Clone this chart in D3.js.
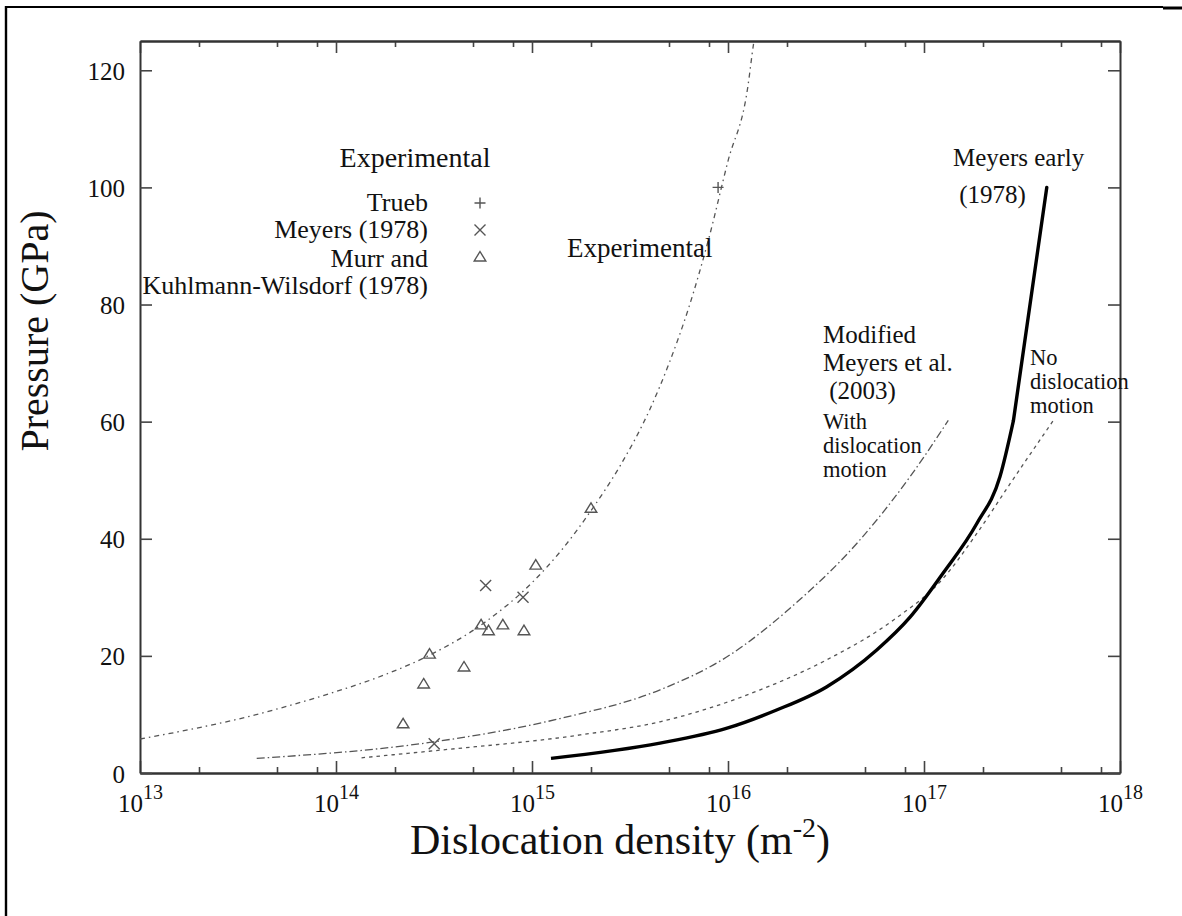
<!doctype html>
<html lang="en">
<head>
  <meta charset="utf-8">
  <title>Pressure vs dislocation density</title>
  <style type="text/css">
    body{
      margin:0;
      background:#fff;
    }
    svg text{
      font-family: "Liberation Serif", "Times New Roman", Times, serif;
      fill:#111;
    }
    .domain{
      stroke:#333;
      stroke-width:2;
    }
    .tick line{
      stroke:#444;
      stroke-width:1.6;
    }
    .curve{
      fill:none;
      stroke:#555;
      stroke-width:1.3;
    }
    .marker{
      fill:none;
      stroke:#555;
      stroke-width:1.4;
    }
  </style>
</head>
<body>
  <div id="vis"></div>
  <script src="https://cdn.jsdelivr.net/npm/d3@7"></script>
  <script type="text/javascript">

    var width = 1182,
      height = 916;

    var serif = "'Liberation Serif', 'Times New Roman', Times, serif";

    // axes
    var xDomain = [1e13, 1e18],
      yDomain = [0, 125],
      xMajor = [1e13, 1e14, 1e15, 1e16, 1e17, 1e18],
      xExponents = ['13', '14', '15', '16', '17', '18'],
      xMinorMult = [2, 5, 8],
      yTicks = [0, 20, 40, 60, 80, 100, 120];

    // fitted curves: [density m^-2, pressure GPa]
    var experimentalFit = [
      [1.0e13, 5.8], [1.78e13, 7.4], [3.16e13, 9.2], [5.62e13, 11.4], [1.0e14, 13.9],
      [1.78e14, 16.8], [3.16e14, 20.5], [5.62e14, 25.5], [1.0e15, 32.5], [1.41e15, 38.0],
      [2.0e15, 44.8], [2.82e15, 52.5], [3.98e15, 62.0], [5.01e15, 70.0], [6.31e15, 79.5],
      [7.94e15, 91.0], [1.0e16, 104.5], [1.26e16, 117.0], [1.35e16, 124.5], [1.38e16, 126.5]
    ];
    var withMotion = [
      [3.94e13, 2.5], [3.13e14, 5.3], [1.39e15, 9.3], [4.5e15, 14.2], [9.84e15, 19.8],
      [2.15e16, 28.6], [4.71e16, 39.8], [8.49e16, 50.6], [1.33e17, 60.2]
    ];
    var noMotion = [
      [1.35e14, 2.6], [3.17e14, 3.8], [1.76e15, 6.5], [4.5e15, 8.75], [1.46e16, 14.2],
      [3.18e16, 19.3], [6.97e16, 26.1], [1.25e17, 33.2], [1.86e17, 40.9], [2.75e17, 49.4],
      [4.57e17, 60.2]
    ];
    var meyersEarly = [
      [1.25e15, 2.5], [4.5e15, 5.1], [9.8e15, 7.6], [1.77e16, 10.75], [3.18e16, 14.7],
      [5.74e16, 21.0], [8.49e16, 26.6], [1.25e17, 34.1], [1.86e17, 42.6], [2.44e17, 50.6],
      [2.86e17, 60.2], [4.23e17, 100]
    ];

    // experimental points
    var trueb = [[8.9e15, 100]];
    var meyers1978 = [[5.8e14, 32], [9.0e14, 30], [3.17e14, 5.0]];
    var murr = [
      [2.0e15, 45.2], [1.045e15, 35.5], [5.5e14, 25.3], [6.0e14, 24.3], [7.1e14, 25.3],
      [9.1e14, 24.3], [3.0e14, 20.3], [4.5e14, 18.1], [2.8e14, 15.2], [2.2e14, 8.4]
    ];

    var plot = {left: 140, right: 1120, top: 41, bottom: 773};

    var svg = d3.select("#vis").append("svg")
      .attr("width", width)
      .attr("height", height);

    // page frame
    svg.append("line").attr("x1", 6).attr("y1", 7).attr("x2", 1163).attr("y2", 7)
      .style("stroke", "#000").style("stroke-width", 2);
    svg.append("line").attr("x1", 1163).attr("y1", 8).attr("x2", 1182).attr("y2", 8)
      .style("stroke", "#000").style("stroke-width", 3);
    svg.append("line").attr("x1", 6).attr("y1", 6).attr("x2", 6).attr("y2", height)
      .style("stroke", "#000").style("stroke-width", 2.4);

    var x = d3.scaleLog().domain(xDomain).range([plot.left, plot.right]);
    var y = d3.scaleLinear().domain(yDomain).range([plot.bottom, plot.top]);

    var xMinor = [];
    xMajor.slice(0, -1).forEach(function(d){
      xMinorMult.forEach(function(m){ xMinor.push(d * m); });
    });

    // minor ticks, bottom and top
    svg.append("g")
      .attr("transform", "translate(0," + plot.bottom + ")")
      .call(d3.axisBottom(x).tickValues(xMinor).tickSizeInner(-6).tickSizeOuter(0).tickFormat(""));
    svg.append("g")
      .attr("transform", "translate(0," + plot.top + ")")
      .call(d3.axisTop(x).tickValues(xMinor).tickSizeInner(-6).tickSizeOuter(0).tickFormat(""));

    var gx = svg.append("g")
      .attr("transform", "translate(0," + plot.bottom + ")")
      .call(d3.axisBottom(x).tickValues(xMajor).tickSizeInner(-12).tickSizeOuter(0).tickFormat(""));

    var lbl = gx.selectAll(".tick").append("text")
      .attr("y", 39)
      .attr("x", 0)
      .attr("text-anchor", "middle")
      .style("font-family", serif)
      .style("font-size", "25px")
      .style("fill", "#111");
    lbl.append("tspan").text("10");
    lbl.append("tspan")
      .attr("dy", -13)
      .style("font-size", "20px")
      .text(function(d, i){ return xExponents[i]; });

    svg.append("g")
      .attr("transform", "translate(0," + plot.top + ")")
      .call(d3.axisTop(x).tickValues(xMajor).tickSizeInner(-12).tickSizeOuter(0).tickFormat(""));

    var gy = svg.append("g")
      .attr("transform", "translate(" + plot.left + ",0)")
      .call(d3.axisLeft(y).tickValues(yTicks).tickSizeInner(-12).tickSizeOuter(0).tickPadding(15));
    gy.selectAll("text")
      .attr("dy", "0.36em")
      .style("font-size", "25px")
      .style("font-family", serif)
      .style("fill", "#111");

    svg.append("g")
      .attr("transform", "translate(" + plot.right + ",0)")
      .call(d3.axisRight(y).tickValues(yTicks).tickSizeInner(-12).tickSizeOuter(0).tickFormat(""));

    // axis titles
    var xt = svg.append("text")
      .attr("x", 620)
      .attr("y", 854)
      .attr("text-anchor", "middle")
      .style("font-family", serif)
      .style("font-size", "42px");
    xt.append("tspan").text("Dislocation density (m");
    xt.append("tspan").attr("dy", -17).style("font-size", "28px").text("-2");
    xt.append("tspan").attr("dy", 17).text(")");

    svg.append("text")
      .attr("transform", "translate(48,331) rotate(-90)")
      .attr("text-anchor", "middle")
      .style("font-family", serif)
      .style("font-size", "40px")
      .text("Pressure (GPa)");

    // curves
    svg.append("clipPath").attr("id", "clip")
      .append("rect")
      .attr("x", plot.left).attr("y", plot.top)
      .attr("width", plot.right - plot.left).attr("height", plot.bottom - plot.top);

    var smooth = d3.line()
      .x(function(d){ return x(d[0]); })
      .y(function(d){ return y(d[1]); })
      .curve(d3.curveMonotoneX);

    var straight = d3.line()
      .x(function(d){ return x(d[0]); })
      .y(function(d){ return y(d[1]); });

    var curves = svg.append("g").attr("clip-path", "url(#clip)");

    curves.append("path").datum(experimentalFit)
      .attr("class", "curve")
      .attr("d", smooth)
      .style("stroke-dasharray", "5,4,1.5,4");

    curves.append("path").datum(withMotion)
      .attr("class", "curve")
      .attr("d", smooth)
      .style("stroke-dasharray", "8,3,1.5,3");

    curves.append("path").datum(noMotion)
      .attr("class", "curve")
      .attr("d", smooth)
      .style("stroke-dasharray", "3.5,4");

    // Meyers early: smooth up to the 60 GPa knee, then straight to 100
    var knee = meyersEarly.length - 1;
    curves.append("path").datum(meyersEarly.slice(0, knee))
      .attr("class", "curve")
      .attr("d", smooth)
      .style("stroke", "#000")
      .style("stroke-width", 3.4);
    curves.append("path").datum(meyersEarly.slice(knee - 1))
      .attr("class", "curve")
      .attr("d", straight)
      .style("stroke", "#000")
      .style("stroke-width", 3.4)
      .style("stroke-linecap", "round");

    // point markers
    function plus(g){
      g.append("path").attr("class", "marker").attr("d", "M-5.5,0H5.5M0,-5.5V5.5");
    }
    function cross(g){
      g.append("path").attr("class", "marker").attr("d", "M-5.5,-5.5L5.5,5.5M-5.5,5.5L5.5,-5.5");
    }
    function triangle(g){
      g.append("path").attr("class", "marker").attr("d", "M0,-5.5L5.8,4H-5.8Z");
    }

    function drawPoints(data, shape){
      svg.append("g").selectAll("g")
        .data(data)
        .enter().append("g")
          .attr("transform", function(d){ return "translate(" + x(d[0]) + "," + y(d[1]) + ")"; })
          .each(function(){ shape(d3.select(this)); });
    }
    drawPoints(trueb, plus);
    drawPoints(meyers1978, cross);
    drawPoints(murr, triangle);

    // legend
    var legendEntries = [
      {text: "Trueb", y: 211, mark: plus, my: 203},
      {text: "Meyers (1978)", y: 238, mark: cross, my: 230},
      {text: "Murr and", y: 267, mark: triangle, my: 257},
      {text: "Kuhlmann-Wilsdorf (1978)", y: 294}
    ];
    svg.append("text")
      .attr("x", 415).attr("y", 167)
      .attr("text-anchor", "middle")
      .style("font-family", serif)
      .style("font-size", "28px")
      .text("Experimental");
    legendEntries.forEach(function(e){
      svg.append("text")
        .attr("x", 428).attr("y", e.y)
        .attr("text-anchor", "end")
        .style("font-family", serif)
        .style("font-size", "26px")
        .text(e.text);
      if(e.mark){
        e.mark(svg.append("g").attr("transform", "translate(480," + e.my + ")"));
      }
    });

    // annotations
    function label(lines, x0, y0, step, size){
      var t = svg.append("text")
        .style("font-family", serif)
        .style("font-size", size + "px");
      lines.forEach(function(l, i){
        t.append("tspan").attr("x", x0).attr("y", y0 + i * step).text(l);
      });
    }
    label(["Experimental"], 567, 257, 0, 27);
    label(["Meyers early", " (1978)"], 953, 166, 37, 25);
    label(["Modified", "Meyers et al.", " (2003)"], 823, 343, 28, 25);
    label(["With", "dislocation", "motion"], 823, 429, 24, 22.5);
    label(["No", "dislocation", "motion"], 1030, 365, 24, 22.5);

  </script>
</body>
</html>
